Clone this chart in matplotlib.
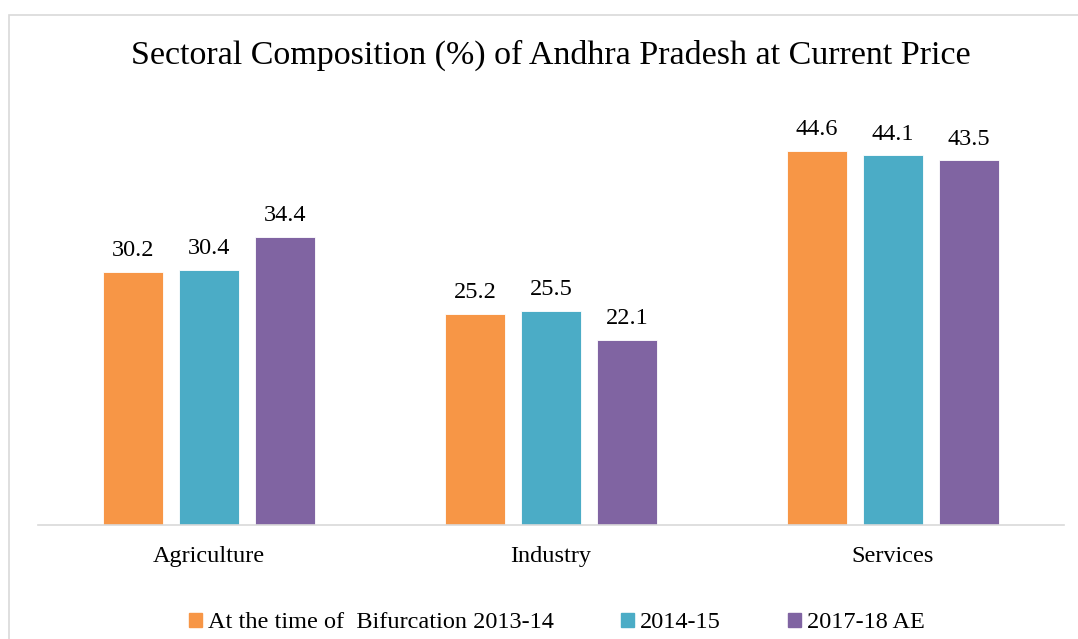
import matplotlib
matplotlib.use("Agg")
import matplotlib.pyplot as plt
import numpy as np
from matplotlib.patches import Rectangle

categories = ["Agriculture", "Industry", "Services"]
series_names = ["At the time of  Bifurcation 2013-14", "2014-15", "2017-18 AE"]
v2013 = [30.2, 25.2, 44.6]
v2014 = [30.4, 25.5, 44.1]
v2017 = [34.4, 22.1, 43.5]
colors = ["#F79646", "#4BACC6", "#8064A2"]
title = "Sectoral Composition (%) of Andhra Pradesh at Current Price"

W, H = 1078, 639
fig = plt.figure(figsize=(W / 100, H / 100), dpi=100)
plt.rcParams['font.family'] = ['Liberation Serif', 'DejaVu Serif']

# outer border
fig.patches.append(Rectangle((8.5 / W, -0.1), 1.2, 1 - 15.5 / H + 0.1,
                             transform=fig.transFigure, fill=False,
                             edgecolor="#D9D9D9", linewidth=1.2))

ax = fig.add_axes([38 / W, (H - 525) / H, (1064 - 38) / W, (525 - 106) / H])
ax.set_xlim(-0.5, 2.5)
ax.set_ylim(0, 50)

x = np.arange(len(categories))
bw = 60 / 342
step = 76 / 342
for i, (vals, c, name) in enumerate(zip([v2013, v2014, v2017], colors, series_names)):
    pos = x + (i - 1) * step
    ax.bar(pos, vals, width=bw, color=c, edgecolor="white", linewidth=0.6, label=name, zorder=2)
    for p, v in zip(pos, vals):
        ax.text(p, v + 1.9, f"{v:.1f}", ha="center", va="baseline", fontsize=17.5, color="black")

for s in ["top", "right", "left"]:
    ax.spines[s].set_visible(False)
ax.spines["bottom"].set_color("#D9D9D9")
ax.spines["bottom"].set_linewidth(1.2)
ax.set_yticks([])
ax.set_xticks(x)
ax.set_xticklabels(categories, fontsize=17.5)
ax.tick_params(axis="x", length=0, pad=15)

fig.text(551 / W, 1 - 55 / H, title, ha="center", va="center", fontsize=24.5)

handles = [Rectangle((0, 0), 1, 1, color=c) for c in colors]
leg = fig.legend(handles, series_names, loc="center", bbox_to_anchor=(557 / W, 1 - 623 / H),
                 ncol=3, frameon=False, fontsize=17.5, handlelength=0.54, handleheight=0.54,
                 handletextpad=0.25, columnspacing=2.75)

fig.savefig("out.png", dpi=100)
